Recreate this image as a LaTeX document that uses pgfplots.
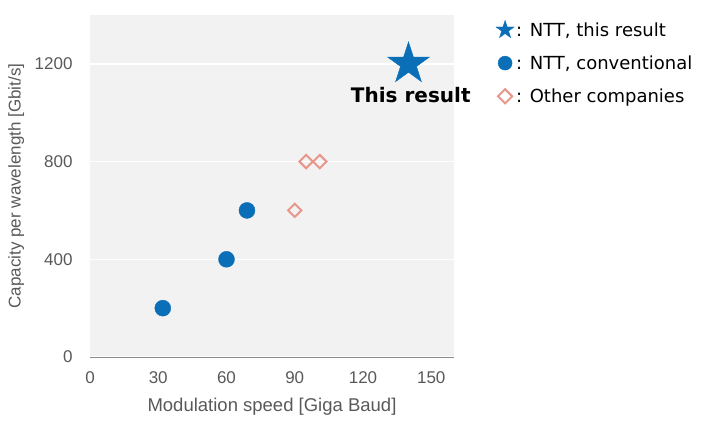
\documentclass[border=0pt]{standalone}
\usepackage{fontspec}
\setmainfont{Liberation Sans}
\newfontfamily\legfont{DejaVu Sans}
\usepackage{pgfplots}
\pgfplotsset{compat=1.18}
\definecolor{nttblue}{HTML}{0B6FB8}
\definecolor{salmon}{HTML}{E8968A}
\definecolor{bg}{HTML}{F2F2F2}
\definecolor{tickgray}{HTML}{595959}
\definecolor{axgray}{HTML}{8C8C8C}
\pgfdeclareplotmark{fstar}{%
  \pgfpathmoveto{\pgfpointpolar{90}{\pgfplotmarksize}}%
  \pgfpathlineto{\pgfpointpolar{126}{0.382\pgfplotmarksize}}%
  \pgfpathlineto{\pgfpointpolar{162}{\pgfplotmarksize}}%
  \pgfpathlineto{\pgfpointpolar{198}{0.382\pgfplotmarksize}}%
  \pgfpathlineto{\pgfpointpolar{234}{\pgfplotmarksize}}%
  \pgfpathlineto{\pgfpointpolar{270}{0.382\pgfplotmarksize}}%
  \pgfpathlineto{\pgfpointpolar{306}{\pgfplotmarksize}}%
  \pgfpathlineto{\pgfpointpolar{342}{0.382\pgfplotmarksize}}%
  \pgfpathlineto{\pgfpointpolar{18}{\pgfplotmarksize}}%
  \pgfpathlineto{\pgfpointpolar{54}{0.382\pgfplotmarksize}}%
  \pgfpathclose
  \pgfusepathqfillstroke}
\begin{document}
\begin{tikzpicture}
\useasboundingbox (-90pt,-64pt) rectangle (625pt,357pt);
\begin{axis}[
  at={(0pt,0pt)}, anchor=south west,
  scale only axis, width=364pt, height=342pt,
  xmin=0, xmax=160, ymin=0, ymax=1400,
  clip=false,
  xtick={0,30,60,90,120,150}, ytick={0,400,800,1200},
  axis background/.style={fill=bg},
  axis x line*=bottom, axis y line*=left,
  x axis line style={axgray, line width=1pt},
  y axis line style={draw=none},
  major tick length=0pt,
  ymajorgrids, grid style={white, line width=1.5pt},
  /pgf/number format/assume math mode=true,
  /pgf/number format/set thousands separator={},
  tick label style={font=\fontsize{17}{20}\selectfont, text=tickgray},
  xticklabel style={yshift=-11pt},
  yticklabel style={xshift=-14pt},
  xlabel={Modulation speed [Giga Baud]},
  ylabel={Capacity per wavelength [Gbit/s]},
  label style={text=tickgray},
  xlabel style={font=\fontsize{18.5}{22}\selectfont, at={(axis description cs:0.5,-0.146)}, anchor=center},
  ylabel style={font=\fontsize{17}{20}\selectfont, at={(axis description cs:-0.203,0.5)}, anchor=center},
  legend image code/.code={\draw[#1] plot coordinates {(0pt,0pt)};},
  legend style={at={(axis description cs:1.115,0.985)}, anchor=north west,
    draw=none, fill=none, font=\legfont\fontsize{18}{21}\selectfont,
    row sep=14pt, inner sep=0pt},
  legend cell align=left,
]
\addplot[only marks, mark=fstar, mark size=22pt, nttblue, forget plot] coordinates {(140,1200)};
\addplot[only marks, mark=*, mark size=8pt, nttblue, forget plot] coordinates {(32,200) (60,400) (69,600)};
\addplot[only marks, mark=square, mark size=4.7pt, salmon, line width=2pt, mark options={fill=white, rotate=45}, forget plot] coordinates {(90,600) (95,800) (101,800)};
\addlegendimage{only marks, mark=fstar, mark size=9.5pt, nttblue}
\addlegendentry{: NTT, this result}
\addlegendimage{only marks, mark=*, mark size=7pt, nttblue}
\addlegendentry{: NTT, conventional}
\addlegendimage{only marks, mark=square, mark size=5pt, salmon, line width=2pt, mark options={fill=white, rotate=45}}
\addlegendentry{: Other companies}
\node[font=\legfont\bfseries\fontsize{20}{24}\selectfont, text=black] at (axis cs:141,1072) {This result};
\end{axis}
\end{tikzpicture}
\end{document}
